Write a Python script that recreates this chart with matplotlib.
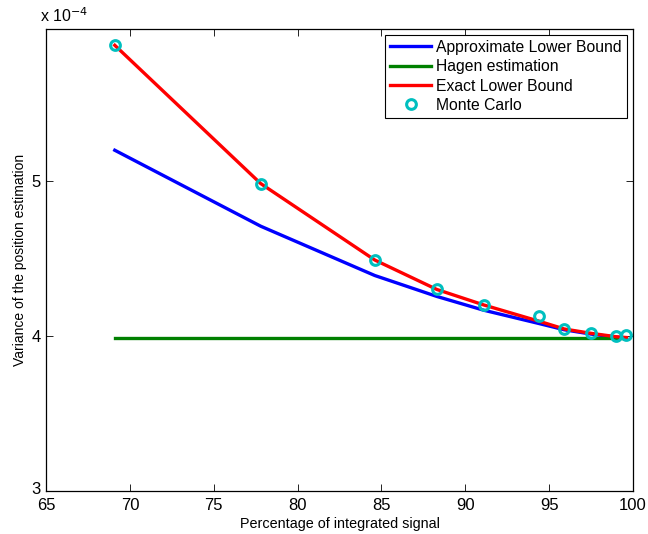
import matplotlib
matplotlib.use("Agg")
import matplotlib.pyplot as plt
from matplotlib.ticker import FixedLocator
from matplotlib.transforms import ScaledTranslation

plt.rcParams['font.family'] = ['Liberation Sans', 'DejaVu Sans']

# x: percentage of integrated signal
x_pts = [69.1, 77.8, 84.6, 88.3, 91.1, 94.4, 95.9, 97.5, 99.0, 99.6]
# values in units of 1e-4
approx_lb = [5.198, 4.708, 4.39, 4.255, 4.166, 4.08, 4.04, 4.012, 3.992, 3.988]
exact_lb = [5.875, 4.983, 4.49, 4.30, 4.20, 4.095, 4.045, 4.017, 3.995, 3.99]
hagen_x = [69.1, 99.6]
hagen_y = [3.984, 3.984]
mc_y = [5.875, 4.983, 4.49, 4.30, 4.20, 4.132, 4.045, 4.017, 4.0, 4.006]

fig = plt.figure(figsize=(6.48, 5.34), dpi=100)
ax = fig.add_axes([0.071, 0.0805, 0.906, 0.8652])

ax.plot(x_pts, approx_lb, color=(0, 0, 1), lw=2.4, label='Approximate Lower Bound')
ax.plot(hagen_x, hagen_y, color=(0, 0.5, 0), lw=2.4, label='Hagen estimation')
ax.plot(x_pts, exact_lb, color=(1, 0, 0), lw=2.4, label='Exact Lower Bound')
ax.plot(x_pts, mc_y, linestyle='none', marker='o', markersize=7, markerfacecolor='none',
        markeredgecolor=(0, 0.75, 0.75), markeredgewidth=2.2, label='Monte Carlo')

ax.set_xlim(65, 100)
ax.set_ylim(3, 5.98)
ax.xaxis.set_major_locator(FixedLocator([65, 70, 75, 80, 85, 90, 95, 100]))
ax.yaxis.set_major_locator(FixedLocator([3, 4, 5]))
ax.set_xticklabels(['65', '70', '75', '80', '85', '90', '95', '100'])
ax.set_yticklabels(['3', '4', '5'])
ax.tick_params(direction='in', top=True, right=True, length=5, width=0.6,
               labelsize=12, colors='black')
ax.tick_params(axis='x', pad=5)
ax.tick_params(axis='y', pad=4)
for lab in ax.get_yticklabels():
    if lab.get_text() == '3':
        lab.set_transform(lab.get_transform() + ScaledTranslation(0, 2.5 / 72, fig.dpi_scale_trans))
for s in ax.spines.values():
    s.set_linewidth(0.9)

ax.text(-0.01, 1.008, r'x 10$^{-4}$', transform=ax.transAxes, fontsize=11.5,
        ha='left', va='bottom')

ax.set_xlabel('Percentage of integrated signal', fontsize=10.4, labelpad=3)
ax.set_ylabel('Variance of the position estimation', fontsize=10, labelpad=3)

leg = ax.legend(loc='upper right', bbox_to_anchor=(0.99, 0.988), fontsize=11.3,
                frameon=True, fancybox=False, edgecolor='black', framealpha=1,
                borderpad=0.33, labelspacing=0.28, handlelength=2.6,
                handletextpad=0.35, borderaxespad=0)
leg.get_frame().set_linewidth(0.8)

fig.savefig('out.png', dpi=100)
